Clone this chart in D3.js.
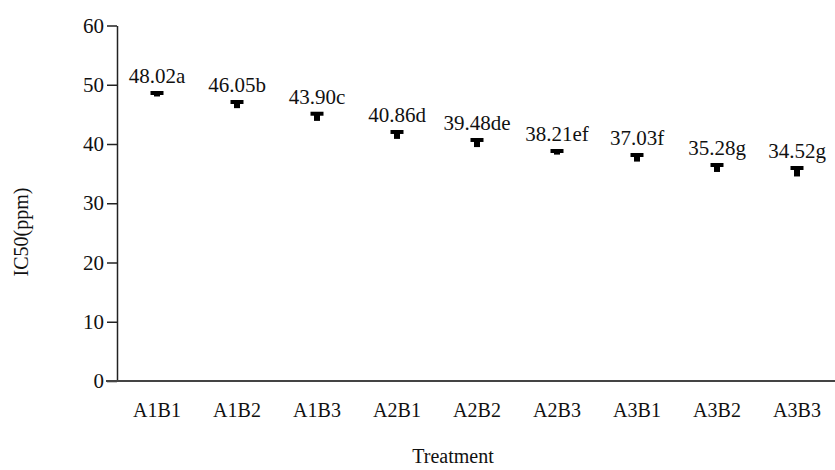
<!DOCTYPE html>
<html>
<head>
<meta charset="utf-8">
<script src="https://cdn.jsdelivr.net/npm/d3@7"></script>
<style>
  html, body { margin: 0; padding: 0; background: #fff; }
  svg { display: block; }
  text { font-family: "Liberation Serif", "Times New Roman", serif; fill: #111; }
</style>
</head>
<body>
<svg id="chart" width="835" height="470"></svg>
<script>
// Treatments and their IC50 means (ppm) with standard errors
const treatments = ["A1B1", "A1B2", "A1B3", "A2B1", "A2B2", "A2B3", "A3B1", "A3B2", "A3B3"];
const means = [48.02, 46.05, 43.90, 40.86, 39.48, 38.21, 37.03, 35.28, 34.52];
const errors = [0.59, 1.04, 1.21, 1.17, 1.20, 0.61, 1.11, 1.18, 1.43];
const letters = ["a", "b", "c", "d", "de", "ef", "f", "g", "g"];
const yTicks = [0, 10, 20, 30, 40, 50, 60];

const svg = d3.select("#chart");
const margin = { left: 117, top: 25.5, right: -2, bottom: 89 };
const width = 835, height = 470;

const x = d3.scaleBand()
  .domain(treatments)
  .range([margin.left, width - margin.right])
  .paddingInner(0).paddingOuter(0);

const y = d3.scaleLinear()
  .domain([0, 60])
  .range([height - margin.bottom, margin.top]);

const axisColor = "#222";

// y axis with outward ticks
const yAxis = svg.append("g")
  .attr("transform", `translate(${margin.left},0)`)
  .call(d3.axisLeft(y).tickValues(yTicks).tickSize(10).tickPadding(3).tickSizeOuter(0));
yAxis.select(".domain").attr("stroke", axisColor).attr("stroke-width", 1.5);
yAxis.selectAll(".tick line").attr("stroke", axisColor).attr("stroke-width", 1.5);
yAxis.selectAll(".tick text")
  .style("font-size", "21px")
  .attr("fill", "#111");

// x axis: a plain baseline with the category names below
const xAxis = svg.append("g")
  .attr("transform", `translate(0,${y(0)})`)
  .call(d3.axisBottom(x).tickSize(0).tickPadding(22).tickSizeOuter(0));
xAxis.select(".domain")
  .attr("d", `M${margin.left - 11},0H${width}`)
  .attr("stroke", "#444").attr("stroke-width", 2);
xAxis.selectAll(".tick text")
  .style("font-size", "20px")
  .attr("fill", "#111");

// upper error bars: short thick stem from the mean up to a heavy cap
const marks = svg.append("g");
treatments.forEach((t, i) => {
  const cx = x(t) + x.bandwidth() / 2;
  const yMean = y(means[i]);
  const yTop = y(means[i] + errors[i]);
  marks.append("line")
    .attr("x1", cx).attr("x2", cx)
    .attr("y1", yMean).attr("y2", yTop)
    .attr("stroke", "#000").attr("stroke-width", 6);
  marks.append("line")
    .attr("x1", cx - 6.5).attr("x2", cx + 6.5)
    .attr("y1", yTop).attr("y2", yTop)
    .attr("stroke", "#000").attr("stroke-width", 4);
  svg.append("text")
    .attr("x", cx)
    .attr("y", yTop - 10)
    .attr("text-anchor", "middle")
    .style("font-size", "21px")
    .text(means[i].toFixed(2) + letters[i]);
});

// axis titles
svg.append("text")
  .attr("x", 453)
  .attr("y", 463)
  .attr("text-anchor", "middle")
  .style("font-size", "20px")
  .text("Treatment");

svg.append("text")
  .attr("transform", "translate(28,232) rotate(-90)")
  .attr("text-anchor", "middle")
  .style("font-size", "20px")
  .text("IC50(ppm)");
</script>
</body>
</html>
